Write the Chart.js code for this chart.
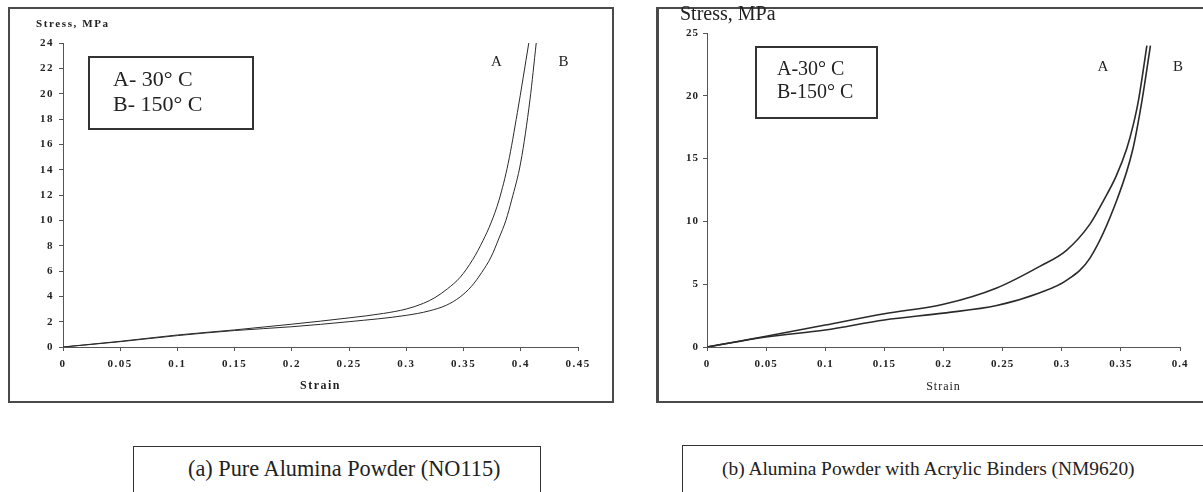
<!DOCTYPE html>
<html><head><meta charset="utf-8">
<script src="https://cdn.jsdelivr.net/npm/chart.js@4.4.0/dist/chart.umd.min.js"></script>
<style>
html,body{margin:0;padding:0;background:#fff;}
body{width:1203px;height:492px;position:relative;overflow:hidden;font-family:"Liberation Serif","Times New Roman",serif;color:#222;}
.frame{position:absolute;border:2px solid #4a4a4a;box-sizing:border-box;}
canvas{position:absolute;top:0;}
.cap{position:absolute;border:1.5px solid #333;box-sizing:border-box;}
.capt{position:absolute;white-space:nowrap;line-height:22px;color:#222;font-family:"Liberation Serif","Times New Roman",serif;}
</style></head><body>
<div class="frame" style="left:8px;top:7px;width:606px;height:396px"></div>
<div class="frame" style="left:656px;top:7px;width:560px;height:396px;border-left-width:3px"></div>
<canvas id="c1" width="605" height="402" style="left:8px"></canvas>
<canvas id="c2" width="546" height="402" style="left:657px"></canvas>
<div class="cap" style="left:133px;top:446px;width:408px;height:60px"></div>
<div class="capt" style="left:188px;top:458px;font-size:22.3px">(a) Pure Alumina Powder (NO115)</div>
<div class="cap" style="left:682px;top:445px;width:600px;height:60px"></div>
<div class="capt" style="left:722px;top:458px;font-size:19.4px">(b) Alumina Powder with Acrylic Binders (NM9620)</div>
<script>
// ---- Data ----
// (a) Pure Alumina Powder (NO115)
const leftStrainA = [0, 0.05, 0.1, 0.15, 0.2, 0.25, 0.28, 0.3, 0.315, 0.325, 0.336, 0.347, 0.358, 0.367, 0.374, 0.381, 0.389, 0.397, 0.407];
const leftStressA = [0, 0.45, 0.95, 1.35, 1.8, 2.3, 2.65, 3.0, 3.45, 3.9, 4.6, 5.5, 6.9, 8.4, 9.8, 11.6, 14.5, 18.5, 24];
const leftStrainB = [0, 0.05, 0.1, 0.15, 0.2, 0.25, 0.3, 0.32, 0.335, 0.347, 0.357, 0.366, 0.374, 0.381, 0.387, 0.392, 0.4, 0.408, 0.4135];
const leftStressB = [0, 0.42, 0.9, 1.3, 1.6, 2.0, 2.5, 2.85, 3.3, 3.95, 4.8, 5.9, 7.1, 8.6, 10.0, 11.6, 14.6, 19.5, 24];
// (b) Alumina Powder with Acrylic Binders (NM9620)
const rightStrainA = [0, 0.05, 0.1, 0.15, 0.2, 0.245, 0.281, 0.304, 0.324, 0.335, 0.346, 0.355, 0.3605, 0.365, 0.372];
const rightStressA = [0, 0.85, 1.75, 2.65, 3.4, 4.7, 6.4, 7.7, 9.8, 11.6, 13.6, 15.8, 17.7, 19.7, 24];
const rightStrainB = [0, 0.05, 0.1, 0.15, 0.2, 0.245, 0.281, 0.304, 0.324, 0.347, 0.360, 0.368, 0.375];
const rightStressB = [0, 0.8, 1.35, 2.15, 2.7, 3.3, 4.3, 5.3, 7.1, 11.8, 15.7, 19.7, 24];
// Axis ranges / tick steps
const leftXMax = 0.45, leftXStep = 0.05, leftYMax = 24, leftYStep = 2;
const rightXMax = 0.4, rightXStep = 0.05, rightYMax = 25, rightYStep = 5;
// Texts
const leftLegend = ['A- 30\u00B0 C', 'B- 150\u00B0 C'];
const rightLegend = ['A-30\u00B0 C', 'B-150\u00B0 C'];
const curveLabels = ['A', 'B'];
const yTitle = 'Stress, MPa';
const xTitle = 'Strain';

const SERIF = '"Liberation Serif","Times New Roman",serif';
const pts = (xs, ys) => xs.map((x, i) => ({x: x, y: ys[i]}));

function annotPlugin(o) {
  return {
    id: 'annot',
    beforeDraw(chart) { chart.ctx.letterSpacing = o.spacing; },
    afterDraw(chart) {
      const c = chart.ctx;
      c.save();
      c.letterSpacing = '0px';
      c.fillStyle = '#222';
      c.strokeStyle = '#333';
      c.lineWidth = 2;
      const b = o.box;
      c.strokeRect(b[0], b[1], b[2] - b[0], b[3] - b[1]);
      c.font = o.legendFont;
      c.textBaseline = 'middle';
      c.textAlign = 'left';
      c.fillText(o.legend[0], o.legendX, o.legendY[0]);
      c.fillText(o.legend[1], o.legendX, o.legendY[1]);
      c.font = o.abFont;
      c.textAlign = 'center';
      c.fillText(curveLabels[0], o.aPos[0], o.aPos[1]);
      c.fillText(curveLabels[1], o.bPos[0], o.bPos[1]);
      c.textAlign = 'left';
      c.font = o.yTitleFont;
      c.letterSpacing = o.yTitleSpacing;
      c.fillText(yTitle, o.yTitlePos[0], o.yTitlePos[1]);
      c.restore();
    }
  };
}

function makeChart(id, d) {
  const tickFont = {family: SERIF, size: d.tickSize, weight: 'bold'};
  return new Chart(document.getElementById(id), {
    type: 'scatter',
    data: {
      datasets: [
        {data: pts(d.xa, d.ya), showLine: true, borderColor: '#2a2a2a', borderWidth: d.lw, pointRadius: 0, cubicInterpolationMode: 'monotone', fill: false},
        {data: pts(d.xb, d.yb), showLine: true, borderColor: '#2a2a2a', borderWidth: d.lw, pointRadius: 0, cubicInterpolationMode: 'monotone', fill: false}
      ]
    },
    options: {
      responsive: false, animation: false, devicePixelRatio: 1,
      layout: {padding: d.pad},
      plugins: {legend: {display: false}, tooltip: {enabled: false}},
      scales: {
        x: {
          type: 'linear', min: 0, max: d.xMax,
          ticks: {stepSize: d.xStep, autoSkip: false, maxRotation: 0, font: tickFont, color: '#222', padding: 7,
                  callback: v => String(+(+v).toFixed(2))},
          grid: {drawOnChartArea: false, drawTicks: true, tickLength: 4, color: '#555'},
          border: {color: '#555', width: 1},
          title: {display: true, text: xTitle, color: '#222', font: d.xTitleFont, padding: {top: 0, bottom: d.xTitlePad}},
          afterFit: s => { s.height = 55; }
        },
        y: {
          type: 'linear', min: 0, max: d.yMax,
          ticks: {stepSize: d.yStep, font: tickFont, color: '#222', padding: d.yPad},
          grid: {drawOnChartArea: false, drawTicks: true, tickLength: 4, color: '#555'},
          border: {color: '#555', width: 1},
          afterFit: s => { s.width = d.yWidth; }
        }
      }
    },
    plugins: [annotPlugin(d.annot)]
  });
}

makeChart('c1', {
  xa: leftStrainA, ya: leftStressA, xb: leftStrainB, yb: leftStressB,
  xMax: leftXMax, xStep: leftXStep, yMax: leftYMax, yStep: leftYStep,
  lw: 1, tickSize: 11, yPad: 5, yWidth: 55, xTitlePad: 9,
  xTitleFont: {family: SERIF, size: 12, weight: 'bold'},
  pad: {top: 43, right: 35, left: 0, bottom: 0},
  annot: {
    spacing: '1.5px',
    box: [81, 57, 245, 129], legend: leftLegend, legendX: 105, legendY: [80, 105],
    legendFont: '22px ' + SERIF, abFont: '15px ' + SERIF,
    aPos: [488.5, 62], bPos: [555.5, 62],
    yTitleFont: 'bold 11px ' + SERIF, yTitleSpacing: '1.6px', yTitlePos: [28, 24]
  }
});

makeChart('c2', {
  xa: rightStrainA, ya: rightStressA, xb: rightStrainB, yb: rightStressB,
  xMax: rightXMax, xStep: rightXStep, yMax: rightYMax, yStep: rightYStep,
  lw: 1.6, tickSize: 11, yPad: 4, yWidth: 50, xTitlePad: 8,
  xTitleFont: {family: SERIF, size: 12},
  pad: {top: 33, right: 23, left: 0, bottom: 0},
  annot: {
    spacing: '1px',
    box: [99, 47, 220, 118], legend: rightLegend, legendX: 120, legendY: [70, 93],
    legendFont: '20px ' + SERIF, abFont: '15px ' + SERIF,
    aPos: [446, 67], bPos: [521, 67],
    yTitleFont: '20px ' + SERIF, yTitleSpacing: '0px', yTitlePos: [23, 15]
  }
});
</script>
</body></html>
